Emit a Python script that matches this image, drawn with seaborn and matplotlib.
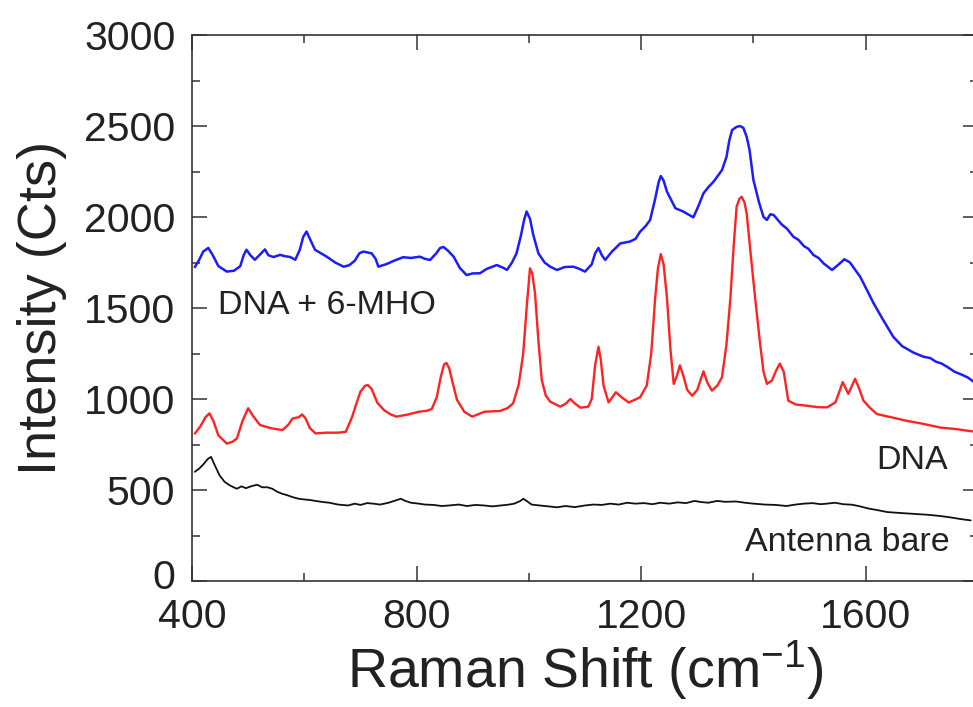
import numpy as np
import pandas as pd
import matplotlib
matplotlib.use("Agg")
import matplotlib.pyplot as plt
import matplotlib.transforms as mtransforms
import seaborn as sns
from matplotlib.ticker import MultipleLocator

# ---------------- data ----------------
mho_shift = [405, 412, 420, 429, 437, 447, 462, 475, 486, 492, 497, 504, 512, 520, 530, 536,
             545, 557, 565, 575, 584, 592, 598, 604, 610, 619, 630, 640, 655, 670, 680, 690,
             698, 705, 713, 720, 727, 732, 747, 760, 776, 790, 806, 815, 824, 835, 842, 848,
             856, 866, 877, 889, 900, 913, 925, 943, 955, 961, 970, 978, 986, 992, 996, 1002,
             1008, 1017, 1028, 1038, 1050, 1064, 1079, 1090, 1100, 1112, 1118, 1124, 1130,
             1136, 1148, 1163, 1180, 1190, 1198, 1208, 1216, 1225, 1231, 1235, 1240, 1246,
             1254, 1261, 1275, 1293, 1302, 1311, 1320, 1329, 1344, 1352, 1357, 1362, 1370,
             1376, 1382, 1388, 1393, 1400, 1410, 1418, 1424, 1430, 1436, 1450, 1460, 1471,
             1480, 1490, 1498, 1507, 1516, 1525, 1540, 1552, 1562, 1572, 1590, 1602, 1614,
             1630, 1649, 1665, 1685, 1703, 1715, 1725, 1735, 1745, 1758, 1770, 1782, 1792]
mho_counts = [1725, 1760, 1810, 1830, 1790, 1730, 1700, 1705, 1730, 1790, 1820, 1790, 1765,
              1790, 1822, 1790, 1780, 1792, 1785, 1780, 1765, 1820, 1890, 1920, 1880, 1820,
              1800, 1782, 1750, 1727, 1735, 1760, 1800, 1810, 1805, 1800, 1770, 1727, 1742,
              1760, 1779, 1775, 1782, 1770, 1764, 1800, 1830, 1835, 1815, 1782, 1720, 1681,
              1690, 1691, 1715, 1736, 1720, 1709, 1750, 1800, 1900, 1990, 2030, 1990, 1900,
              1800, 1750, 1727, 1709, 1725, 1727, 1715, 1700, 1740, 1800, 1830, 1790, 1764,
              1810, 1855, 1865, 1880, 1919, 1950, 1984, 2100, 2190, 2225, 2200, 2139, 2090,
              2048, 2030, 1998, 2060, 2130, 2165, 2194, 2258, 2330, 2420, 2478, 2495, 2500,
              2490, 2440, 2370, 2203, 2080, 2000, 1984, 2015, 2011, 1960, 1935, 1892, 1875,
              1840, 1825, 1791, 1775, 1745, 1709, 1740, 1768, 1750, 1672, 1600, 1526, 1440,
              1342, 1290, 1255, 1232, 1225, 1205, 1195, 1177, 1150, 1135, 1118, 1095]

dna_shift = [405, 415, 424, 431, 438, 447, 462, 472, 480, 490, 500, 508, 521, 540, 561, 572,
             579, 590, 596, 602, 610, 620, 640, 660, 674, 685, 692, 700, 708, 713, 720, 730,
             742, 754, 764, 785, 804, 818, 827, 836, 843, 849, 853, 858, 865, 872, 885, 899,
             921, 948, 962, 972, 982, 990, 996, 1002, 1006, 1011, 1017, 1023, 1030, 1038,
             1056, 1066, 1074, 1082, 1092, 1106, 1112, 1118, 1124, 1128, 1133, 1142, 1155,
             1165, 1178, 1198, 1210, 1218, 1225, 1230, 1235, 1240, 1246, 1252, 1258, 1264,
             1269, 1275, 1282, 1291, 1300, 1311, 1318, 1326, 1336, 1344, 1352, 1359, 1365,
             1370, 1375, 1379, 1384, 1388, 1395, 1403, 1412, 1418, 1424, 1433, 1441, 1447,
             1454, 1462, 1475, 1495, 1515, 1531, 1546, 1553, 1559, 1564, 1569, 1575, 1581,
             1588, 1596, 1608, 1620, 1645, 1673, 1700, 1733, 1760, 1790]
dna_counts = [810, 850, 900, 921, 880, 800, 755, 765, 783, 880, 949, 910, 857, 840, 829, 860,
              893, 900, 915, 895, 840, 811, 815, 815, 820, 900, 967, 1040, 1072, 1077, 1055,
              980, 939, 915, 903, 915, 930, 935, 945, 1010, 1120, 1190, 1198, 1170, 1080, 995,
              930, 903, 930, 934, 950, 976, 1080, 1251, 1500, 1718, 1690, 1581, 1320, 1104,
              1020, 985, 958, 975, 1000, 975, 952, 958, 1000, 1185, 1287, 1220, 1074, 981,
              1037, 1010, 981, 1009, 1074, 1250, 1556, 1720, 1796, 1740, 1556, 1280, 1083,
              1130, 1185, 1130, 1050, 1018, 1050, 1152, 1090, 1046, 1075, 1120, 1300, 1556,
              1850, 2056, 2100, 2111, 2080, 2019, 1800, 1556, 1300, 1150, 1083, 1102, 1160,
              1194, 1150, 991, 970, 963, 955, 954, 981, 1040, 1093, 1060, 1028, 1070, 1111,
              1060, 991, 950, 917, 900, 880, 865, 843, 835, 822]

bare_shift = [405, 413, 420, 428, 434, 440, 449, 458, 467, 474, 480, 488, 496, 505, 516, 525,
              534, 543, 552, 560, 570, 580, 590, 597, 610, 620, 633, 645, 660, 678, 690, 700,
              712, 723, 735, 750, 760, 772, 780, 790, 804, 815, 830, 845, 858, 875, 890, 905,
              920, 935, 950, 965, 974, 985, 990, 996, 1005, 1019, 1035, 1050, 1065, 1082, 1100,
              1115, 1130, 1145, 1160, 1175, 1190, 1205, 1220, 1234, 1250, 1265, 1280, 1295,
              1306, 1320, 1335, 1350, 1369, 1385, 1400, 1420, 1440, 1459, 1475, 1490, 1505,
              1520, 1531, 1545, 1560, 1576, 1590, 1605, 1620, 1638, 1655, 1670, 1690, 1710,
              1730, 1750, 1770, 1787]
bare_counts = [600, 618, 640, 670, 682, 640, 581, 545, 526, 515, 507, 520, 510, 520, 529, 515,
               515, 507, 490, 480, 471, 460, 452, 449, 445, 440, 434, 430, 420, 415, 425, 418,
               428, 425, 420, 430, 440, 452, 440, 430, 425, 420, 418, 412, 415, 420, 412, 418,
               415, 410, 415, 420, 425, 440, 452, 440, 420, 415, 410, 405, 412, 406, 415, 420,
               418, 425, 420, 430, 425, 428, 422, 430, 425, 432, 428, 440, 434, 430, 440, 435,
               437, 430, 425, 420, 418, 412, 420, 425, 428, 422, 425, 430, 422, 419, 410, 398,
               390, 379, 375, 372, 368, 364, 358, 350, 340, 333]

labels = ["DNA + 6-MHO", "DNA", "Antenna bare"]
label_x = [446, 1683, 1568]
label_y = [1516, 662, 211]

x_label = r"Raman Shift (cm$^{\mathregular{-1}}$)"
y_label = "Intensity (Cts)"
x_ticks = [400, 800, 1200, 1600]
y_ticks = [0, 500, 1000, 1500, 2000, 2500, 3000]

# ---------------- style ----------------
sns.set_theme(style="white")
plt.rcParams["font.family"] = ["Liberation Sans", "DejaVu Sans"]
plt.rcParams["mathtext.fontset"] = "custom"
plt.rcParams["mathtext.rm"] = "Liberation Sans"
plt.rcParams["mathtext.it"] = "Liberation Sans:italic"
plt.rcParams["mathtext.bf"] = "Liberation Sans:bold"

W, H = 973, 707
fig = plt.figure(figsize=(W / 100, H / 100), dpi=100)
fig.patch.set_facecolor("white")
ax = fig.add_axes([192 / W, 1 - 581 / H, (978 - 192) / W, (581 - 35) / H])

series = [
    (mho_shift, mho_counts, "#1c1cff", 1.8),
    (dna_shift, dna_counts, "#ff2222", 1.7),
    (bare_shift, bare_counts, "#111111", 1.3),
]
for xs, ys, col, lw in series:
    df = pd.DataFrame({"shift": xs, "counts": ys})
    sns.lineplot(data=df, x="shift", y="counts", ax=ax, color=col, linewidth=lw,
                 estimator=None, sort=False)

ax.set_xlim(400, 1800)
ax.set_ylim(0, 3000)
ax.set_xticks(x_ticks)
ax.set_yticks(y_ticks)
ax.xaxis.set_minor_locator(MultipleLocator(200))
ax.yaxis.set_minor_locator(MultipleLocator(250))

ax.tick_params(which="both", direction="in", top=True, right=True, bottom=True, left=True,
               color="#333333", width=1.1, labelcolor="#222222")
ax.tick_params(which="major", length=10.5, labelsize=29.5)
ax.tick_params(which="minor", length=5.5)
ax.tick_params(axis="y", which="major", pad=12)
ax.tick_params(axis="x", which="major", pad=12)

for sp in ax.spines.values():
    sp.set_visible(True)
    sp.set_color("#333333")
    sp.set_linewidth(1.2)

ax.set_xlabel(x_label, fontsize=40, color="#222222", labelpad=2)
ax.set_ylabel(y_label, fontsize=39, color="#222222", labelpad=12)

aligns = ["left", "center", "center"]
for t, tx, ty, ha in zip(labels, label_x, label_y, aligns):
    ax.text(tx, ty, t, fontsize=24.5, color="#222222", ha=ha, va="center")

ax.grid(False)

# the "0" label sits slightly above the axis line in the reference
fig.canvas.draw()
zero_lab = ax.yaxis.get_major_ticks()[0].label1
zero_lab.set_transform(zero_lab.get_transform()
                       + mtransforms.ScaledTranslation(0, 7 / 100, fig.dpi_scale_trans))

fig.savefig("out.png", dpi=100, facecolor="white")
